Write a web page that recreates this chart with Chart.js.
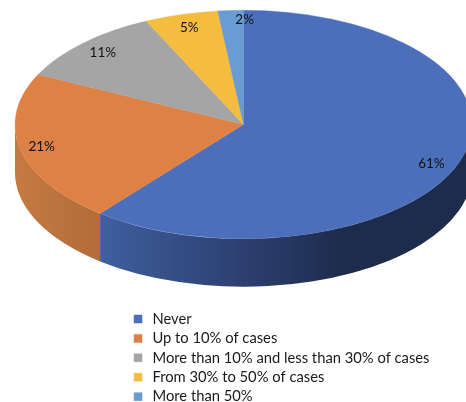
<!DOCTYPE html>
<html>
<head>
<meta charset="utf-8">
<style>
  html, body { margin: 0; padding: 0; background: #fff; overflow: hidden; }
  #wrap { width: 466px; height: 402px; }
</style>
<script src="https://cdn.jsdelivr.net/npm/chart.js@4"></script>
</head>
<body>
<div id="wrap"><canvas id="myChart"></canvas></div>
<script>
const categories = ['Never', 'Up to 10% of cases', 'More than 10% and less than 30% of cases', 'From 30% to 50% of cases', 'More than 50%'];
// slices, the printed labels are these rounded
const shares = [60.8, 21.4, 10.8, 5.2, 1.8];
const colors = ['#4b6fba', '#dd8145', '#a5a5a5', '#f4bd40', '#6a9bd2'];

// look of the fake 3D: squash of the disc, thickness of the rim, rim shades (left to right)
const squash = 0.5;
const depth = 48;
const rimShades = [
    [[0, '#5273b4'], [0.19, '#3f5f9f'], [0.5, '#2c3f6f'], [0.72, '#1d2c4d'], [1, '#1d2c4d']],
    [[0, '#c67a42'], [0.19, '#b26c38'], [1, '#b26c38']],
    [[0, '#8a8a8a'], [1, '#8a8a8a']],
    [[0, '#c99b30'], [1, '#c99b30']],
    [[0, '#5580b0'], [1, '#5580b0']]
];
// label placement: fraction of the radius, and small nudges
const labelRadius = [0.872, 0.905, 0.876, 0.87, 0.916];
const labelNudgeX = [0, 0, 0, 0, 13];
const labelNudgeY = [6, 0, -1, -1, 0];

const tilt = {
    id: 'tilt',
    afterLayout(chart) {
        // move the legend out of the chart area, to under the disc
        const legend = chart.legend;
        const w = legend.width, h = legend.height;
        legend.left = 126.4;
        legend.top = 307;
        legend.right = legend.left + w;
        legend.bottom = legend.top + h;
    },
    beforeDatasetsDraw(chart) {
        const ctx = chart.ctx;
        const arcs = chart.getDatasetMeta(0).data;
        const cx = arcs[0].x, cy = arcs[0].y, rx = arcs[0].outerRadius, ry = rx * squash;
        const left = cx - rx, right = cx + rx;

        arcs.forEach(function (arc, i) {
            // only the part in the front half of the disc shows a rim
            const s = Math.max(arc.startAngle, 0);
            const e = Math.min(arc.endAngle, Math.PI);
            if (e <= s) return;
            const grad = ctx.createLinearGradient(left, 0, right, 0);
            rimShades[i].forEach(function (stop) { grad.addColorStop(stop[0], stop[1]); });
            ctx.beginPath();
            ctx.ellipse(cx, cy, rx, ry, 0, s, e);
            ctx.ellipse(cx, cy + depth, rx, ry, 0, e, s, true);
            ctx.closePath();
            ctx.fillStyle = grad;
            ctx.fill();
        });

        ctx.save();
        ctx.translate(0, cy);
        ctx.scale(1, squash);
        ctx.translate(0, -cy);
    },
    afterDatasetsDraw(chart) {
        const ctx = chart.ctx;
        ctx.restore();
        const arcs = chart.getDatasetMeta(0).data;
        ctx.save();
        ctx.font = '13.5px Lato';
        ctx.fillStyle = '#111';
        ctx.textAlign = 'center';
        ctx.textBaseline = 'middle';
        arcs.forEach(function (arc, i) {
            const mid = (arc.startAngle + arc.endAngle) / 2;
            const r = arc.outerRadius * labelRadius[i];
            const x = arc.x + Math.cos(mid) * r + labelNudgeX[i];
            const y = arc.y + Math.sin(mid) * r * squash + labelNudgeY[i];
            ctx.fillText(Math.round(shares[i]) + '%', x, y);
        });
        ctx.restore();
    }
};

new Chart(document.getElementById('myChart').getContext('2d'), {
    type: 'pie',
    data: {
        labels: categories,
        datasets: [{
            data: shares,
            backgroundColor: colors,
            borderColor: colors,
            borderWidth: 0.5,
            clip: false
        }]
    },
    options: {
        responsive: true,
        maintainAspectRatio: false,
        animation: false,
        radius: 228.5,
        layout: { padding: { left: 21, bottom: 153 } },
        plugins: {
            tooltip: { enabled: false },
            legend: {
                position: 'chartArea',
                align: 'start',
                labels: {
                    usePointStyle: true,
                    pointStyle: 'rect',
                    boxWidth: 14,
                    boxHeight: 8,
                    padding: 4.65,
                    color: '#1a1a1a',
                    font: { family: 'Lato', size: 14.75 }
                }
            }
        }
    },
    plugins: [tilt]
});
</script>
</body>
</html>
